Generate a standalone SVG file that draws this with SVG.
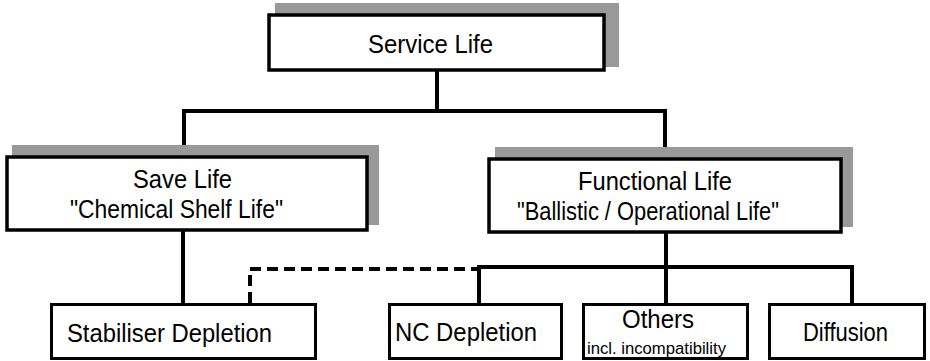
<svg xmlns="http://www.w3.org/2000/svg" width="930" height="361" viewBox="0 0 930 361">
<style>
.shadow{fill:#999999;stroke:none}
.box{fill:#ffffff;stroke:#000000;stroke-width:3.5}
.sbox{fill:#ffffff;stroke:#000000;stroke-width:3}
.conn{fill:none;stroke:#000000;stroke-width:4;stroke-linecap:square}
.dash{fill:none;stroke:#000000;stroke-width:4;stroke-dasharray:11 6}
text{font-family:"Liberation Sans",Arial,sans-serif;fill:#000000}
.t{font-size:25px}
.s{font-size:16px}
</style>
<g id="connectors">
<path class="conn" d="M437 72 V111 M184 111 H665 M184 111 V146 M665 111 V148"/>
<path class="conn" d="M183 232 V303"/>
<path class="conn" d="M666 234 V267 M479 267 H852 M479 267 V303 M666 267 V303 M852 267 V303"/>
<path class="dash" d="M250 303 V269 H478"/>
</g>
<g id="service-life">
<rect class="shadow" x="275" y="3" width="344" height="64"/>
<rect class="box" x="269" y="15" width="335" height="55"/>
<text class="t" x="368" y="53" textLength="125" lengthAdjust="spacingAndGlyphs">Service Life</text>
</g>
<g id="save-life">
<rect class="shadow" x="12" y="145" width="367" height="80"/>
<rect class="box" x="7" y="157" width="360" height="73"/>
<text class="t" x="133" y="188" textLength="99" lengthAdjust="spacingAndGlyphs">Save Life</text>
<text class="t" x="70" y="218" textLength="213" lengthAdjust="spacingAndGlyphs">"Chemical Shelf Life"</text>
</g>
<g id="functional-life">
<rect class="shadow" x="495" y="147" width="358" height="80"/>
<rect class="box" x="489" y="159" width="352" height="73"/>
<text class="t" x="578" y="190" textLength="154" lengthAdjust="spacingAndGlyphs">Functional Life</text>
<text class="t" x="517" y="220" textLength="262" lengthAdjust="spacingAndGlyphs">"Ballistic /  Operational Life"</text>
</g>
<g id="stabiliser-depletion">
<rect class="sbox" x="51.5" y="304.5" width="264" height="54"/>
<text class="t" x="67" y="342" textLength="205" lengthAdjust="spacingAndGlyphs">Stabiliser Depletion</text>
</g>
<g id="nc-depletion">
<rect class="sbox" x="389.5" y="304.5" width="172" height="54"/>
<text class="t" x="395" y="341" textLength="142" lengthAdjust="spacingAndGlyphs">NC Depletion</text>
</g>
<g id="others">
<rect class="sbox" x="583.5" y="304.5" width="164" height="54"/>
<text class="t" x="622" y="328" textLength="72" lengthAdjust="spacingAndGlyphs">Others</text>
<text class="s" x="587" y="354" textLength="139" lengthAdjust="spacingAndGlyphs">incl.  incompatibility</text>
</g>
<g id="diffusion">
<rect class="sbox" x="769.5" y="304.5" width="155" height="54"/>
<text class="t" x="803" y="341" textLength="85" lengthAdjust="spacingAndGlyphs">Diffusion</text>
</g>
</svg>
